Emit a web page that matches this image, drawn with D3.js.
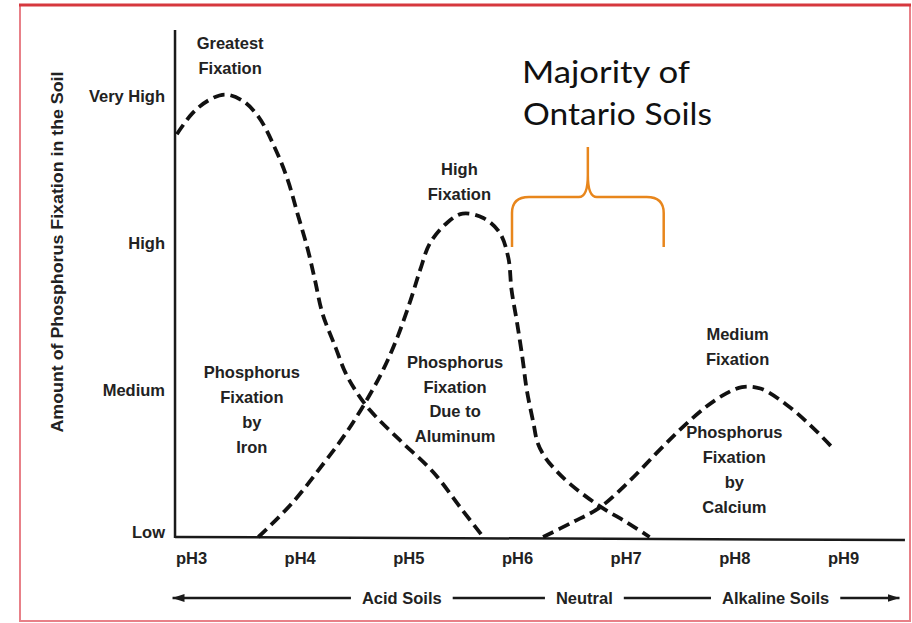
<!DOCTYPE html>
<html><head><meta charset="utf-8">
<script src="https://cdn.jsdelivr.net/npm/d3@7/dist/d3.min.js"></script>
<style>
html,body{margin:0;padding:0;background:#fff;}
svg{display:block;}
.lbl{font-family:"Liberation Sans",Arial,sans-serif;font-weight:bold;font-size:16.5px;fill:#222;}
</style></head><body>
<svg id="chart" width="912" height="623"></svg>
<script>
// ---- data ----
const phValues = [3, 4, 5, 6, 7, 8, 9];
const phLabels = ["pH3", "pH4", "pH5", "pH6", "pH7", "pH8", "pH9"];
const levelValues = [0, 1, 2, 3];
const levelLabels = ["Low", "Medium", "High", "Very High"];

const ironPH    = [2.87, 3.01, 3.16, 3.31, 3.47, 3.62, 3.77, 3.89, 3.98, 4.07, 4.14, 4.21, 4.33, 4.42, 4.52, 4.65, 4.92, 5.23, 5.50, 5.69];
const ironLevel = [2.74, 2.88, 2.97, 3.01, 2.97, 2.86, 2.65, 2.43, 2.20, 1.97, 1.75, 1.52, 1.29, 1.12, 0.99, 0.86, 0.66, 0.44, 0.18, 0.00];

const aluminumPH    = [3.62, 3.93, 4.23, 4.42, 4.60, 4.77, 4.90, 5.02, 5.11, 5.20, 5.36, 5.50, 5.69, 5.84, 5.92, 5.95, 6.00, 6.05, 6.09, 6.15, 6.19, 6.26, 6.35, 6.49, 6.76, 7.01, 7.22];
const aluminumLevel = [0.00, 0.23, 0.51, 0.70, 0.91, 1.14, 1.36, 1.61, 1.82, 2.00, 2.14, 2.20, 2.17, 2.07, 1.90, 1.68, 1.46, 1.22, 1.00, 0.78, 0.64, 0.54, 0.46, 0.36, 0.21, 0.10, 0.00];

const calciumPH    = [6.24, 6.51, 6.76, 7.02, 7.27, 7.50, 7.73, 7.91, 8.07, 8.24, 8.48, 8.70, 8.90];
const calciumLevel = [0.00, 0.10, 0.20, 0.37, 0.56, 0.73, 0.88, 0.97, 1.02, 1.01, 0.90, 0.76, 0.61];

const soilZones = ["Acid Soils", "Neutral", "Alkaline Soils"];
const soilZoneCenters = [4.94, 6.62, 8.38];

const yAxisTitle = "Amount of Phosphorus Fixation in the Soil";
const annotations = [
  { lines: ["Greatest", "Fixation"], ph: 3.36, level: 3.36 },
  { lines: ["High", "Fixation"], ph: 5.47, level: 2.50 },
  { lines: ["Medium", "Fixation"], ph: 8.03, level: 1.38 },
  { lines: ["Phosphorus", "Fixation", "by", "Iron"], ph: 3.56, level: 1.12 },
  { lines: ["Phosphorus", "Fixation", "Due to", "Aluminum"], ph: 5.43, level: 1.19 },
  { lines: ["Phosphorus", "Fixation", "by", "Calcium"], ph: 8.00, level: 0.71 }
];
const calloutLines = ["Majority of", "Ontario Soils"];

// ---- setup ----
const svg = d3.select("#chart");
const x = d3.scaleLinear().domain([3, 9]).range([191, 843]);
const y = d3.scaleLinear().domain([0, 3]).range([537, 96]);
const ink = "#1a1a1a";

// frame
svg.append("rect").attr("x", 20).attr("y", 5).attr("width", 890).attr("height", 616)
  .attr("fill", "none").attr("stroke", "#e88088").attr("stroke-width", 2);
svg.append("line").attr("x1", 19).attr("x2", 911).attr("y1", 5).attr("y2", 5)
  .attr("stroke", "#d6383e").attr("stroke-width", 3);

// axes lines
const xMin = 2.853, xMax = 9.57;
svg.append("line").attr("x1", x(xMin)).attr("x2", x(xMin)).attr("y1", 30).attr("y2", y(0) + 1)
  .attr("stroke", ink).attr("stroke-width", 2.5);
svg.append("line").attr("x1", x(xMin)).attr("x2", x(xMax)).attr("y1", y(0)).attr("y2", y(0) + 3)
  .attr("stroke", ink).attr("stroke-width", 2.5);

// y tick labels
const yAxis = d3.axisLeft(y).tickValues(levelValues).tickFormat((d, i) => levelLabels[i]).tickSize(0).tickPadding(10);
const gy = svg.append("g").attr("transform", `translate(${x(xMin)},0)`).call(yAxis);
gy.select(".domain").remove();
gy.selectAll("text").attr("class", "lbl").attr("font-family", null).attr("font-size", null).attr("fill", null);
gy.selectAll(".tick").filter(d => d === 0).select("text").attr("dy", "0.0em");

// x tick labels
const xAxis = d3.axisBottom(x).tickValues(phValues).tickFormat((d, i) => phLabels[i]).tickSize(0).tickPadding(15);
const gx = svg.append("g").attr("transform", `translate(0,${y(0)})`).call(xAxis);
gx.select(".domain").remove();
gx.selectAll("text").attr("class", "lbl").attr("font-family", null).attr("font-size", null).attr("fill", null);

// y axis title
svg.append("text").attr("class", "lbl")
  .attr("transform", `translate(63,252) rotate(-90)`)
  .attr("text-anchor", "middle")
  .attr("font-size", "15px")
  .attr("textLength", 361).attr("lengthAdjust", "spacingAndGlyphs")
  .text(yAxisTitle);

// curves
const line = d3.line().x(d => x(d[0])).y(d => y(d[1])).curve(d3.curveCatmullRom.alpha(0.5));
const series = [
  d3.zip(ironPH, ironLevel),
  d3.zip(aluminumPH, aluminumLevel),
  d3.zip(calciumPH, calciumLevel)
];
svg.selectAll("path.curve").data(series).join("path")
  .attr("class", "curve")
  .attr("d", line)
  .attr("fill", "none")
  .attr("stroke", "#111")
  .attr("stroke-width", 3.8)
  .attr("stroke-dasharray", "11.5 6");

// annotations
const lh = 24.8;
annotations.forEach(a => {
  const t = svg.append("text").attr("class", "lbl").attr("text-anchor", "middle");
  const cy = y(a.level);
  a.lines.forEach((s, i) => {
    t.append("tspan").attr("x", x(a.ph)).attr("y", cy + i * lh + 5.8).text(s);
  });
});

// soil zone row
const rowY = 598;
const defs = svg.append("defs");
defs.append("marker").attr("id", "arrowR").attr("viewBox", "0 0 12 8")
  .attr("refX", 12).attr("refY", 4).attr("markerWidth", 12).attr("markerHeight", 8)
  .attr("markerUnits", "userSpaceOnUse").attr("orient", "auto")
  .append("path").attr("d", "M0,0 L12,4 L0,8 Z").attr("fill", ink);
defs.append("marker").attr("id", "arrowL").attr("viewBox", "0 0 12 8")
  .attr("refX", 12).attr("refY", 4).attr("markerWidth", 12).attr("markerHeight", 8)
  .attr("markerUnits", "userSpaceOnUse").attr("orient", "auto-start-reverse")
  .append("path").attr("d", "M0,0 L12,4 L0,8 Z").attr("fill", ink);

const zoneTexts = svg.selectAll("text.zone").data(soilZones).join("text")
  .attr("class", "lbl zone").attr("text-anchor", "middle")
  .attr("x", (d, i) => x(soilZoneCenters[i])).attr("y", rowY + 5.8).text(d => d);
const boxes = zoneTexts.nodes().map(n => n.getBBox());
const gap = 11;
const segs = [
  [x(2.83), boxes[0].x - gap, "start"],
  [boxes[0].x + boxes[0].width + gap, boxes[1].x - gap, null],
  [boxes[1].x + boxes[1].width + gap, boxes[2].x - gap, null],
  [boxes[2].x + boxes[2].width + gap, x(9.52), "end"]
];
segs.forEach(s => {
  const l = svg.append("line").attr("x1", s[0]).attr("x2", s[1]).attr("y1", rowY).attr("y2", rowY)
    .attr("stroke", ink).attr("stroke-width", 2.5);
  if (s[2] === "start") l.attr("marker-start", "url(#arrowL)");
  if (s[2] === "end") l.attr("marker-end", "url(#arrowR)");
});

// callout: bracket + text
const orange = "#e8861c";
const bL = x(6.0) - 5, bR = x(7.35), bTip = (bL + bR) / 2;
const bBottom = 247, bMid = 197, bTop = 147;
const br = d3.path();
br.moveTo(bL, bBottom); br.lineTo(bL, bMid + 16);
br.quadraticCurveTo(bL, bMid, bL + 17, bMid);
br.lineTo(bTip - 9, bMid);
br.quadraticCurveTo(bTip, bMid, bTip, bMid - 22);
br.lineTo(bTip, bTop);
br.moveTo(bTip, bMid - 22);
br.quadraticCurveTo(bTip, bMid, bTip + 9, bMid);
br.lineTo(bR - 17, bMid);
br.quadraticCurveTo(bR, bMid, bR, bMid + 16);
br.lineTo(bR, bBottom);
svg.append("path").attr("d", br.toString()).attr("fill", "none")
  .attr("stroke", orange).attr("stroke-width", 2.5);

const callout = svg.append("text")
  .attr("font-family", "Lato, 'Open Sans', sans-serif").attr("font-size", "31px").attr("fill", "#111");
callout.append("tspan").attr("x", 522).attr("y", 83).attr("textLength", 168).attr("lengthAdjust", "spacingAndGlyphs").text(calloutLines[0]);
callout.append("tspan").attr("x", 523).attr("y", 125).attr("textLength", 189).attr("lengthAdjust", "spacingAndGlyphs").text(calloutLines[1]);
</script>
</body></html>
